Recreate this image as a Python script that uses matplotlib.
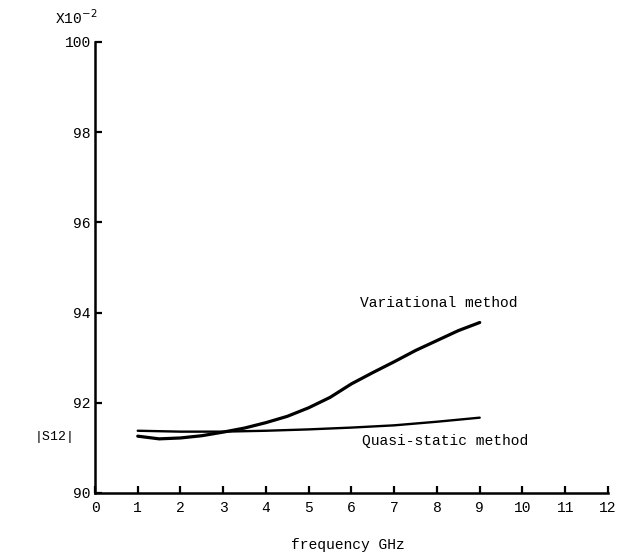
import matplotlib
matplotlib.use("Agg")
import matplotlib.pyplot as plt

freq_var = [1, 1.5, 2, 2.5, 3, 3.5, 4, 4.5, 5, 5.5, 6, 6.5, 7, 7.5, 8, 8.5, 9]
s12_var = [91.26, 91.20, 91.22, 91.27, 91.35, 91.44, 91.56, 91.70, 91.89,
           92.12, 92.42, 92.67, 92.91, 93.16, 93.38, 93.60, 93.78]
freq_qs = [1, 2, 3, 4, 5, 6, 7, 8, 9]
s12_qs = [91.38, 91.36, 91.36, 91.38, 91.41, 91.45, 91.50, 91.58, 91.67]

x_ticks = list(range(0, 13))
y_ticks = [90, 92, 94, 96, 98, 100]

font = "Liberation Mono"
plt.rcParams['font.family'] = [font, 'DejaVu Sans Mono']

fig = plt.figure(figsize=(6.3, 5.59), dpi=100)
ax = fig.add_axes([0.1508, 0.1181, 0.8142, 0.8068])

ax.plot(freq_var, s12_var, color='black', lw=2.3, solid_capstyle='round')
ax.plot(freq_qs, s12_qs, color='black', lw=1.7, solid_capstyle='round')

ax.set_xlim(0, 12)
ax.set_ylim(90, 100)
ax.set_xticks(x_ticks)
ax.set_yticks(y_ticks)
ax.set_xticklabels([str(t) for t in x_ticks], fontsize=10.5)
ax.set_yticklabels([str(t) for t in y_ticks], fontsize=10.5)

for s in ['top', 'right']:
    ax.spines[s].set_visible(False)
for s in ['left', 'bottom']:
    ax.spines[s].set_linewidth(1.8)

ax.tick_params(axis='both', direction='in', length=5, width=1.6, pad=3)
ax.tick_params(axis='x', pad=6)

ax.text(6.2, 94.05, "Variational method", fontsize=10.5, ha='left', va='bottom')
ax.text(6.25, 91.0, "Quasi-static method", fontsize=10.5, ha='left', va='bottom')

fig.text(348/630, 1 - 545/559, "frequency GHz", fontsize=10.5, ha='center', va='center')
fig.text(55/630, 1 - 437/559, "|S12|", fontsize=9.5, ha='center', va='center')
fig.text(55/630, 1 - 18/559, r"X10$^{-2}$", fontsize=10.5, ha='left', va='center')

fig.savefig("out.png", dpi=100)
